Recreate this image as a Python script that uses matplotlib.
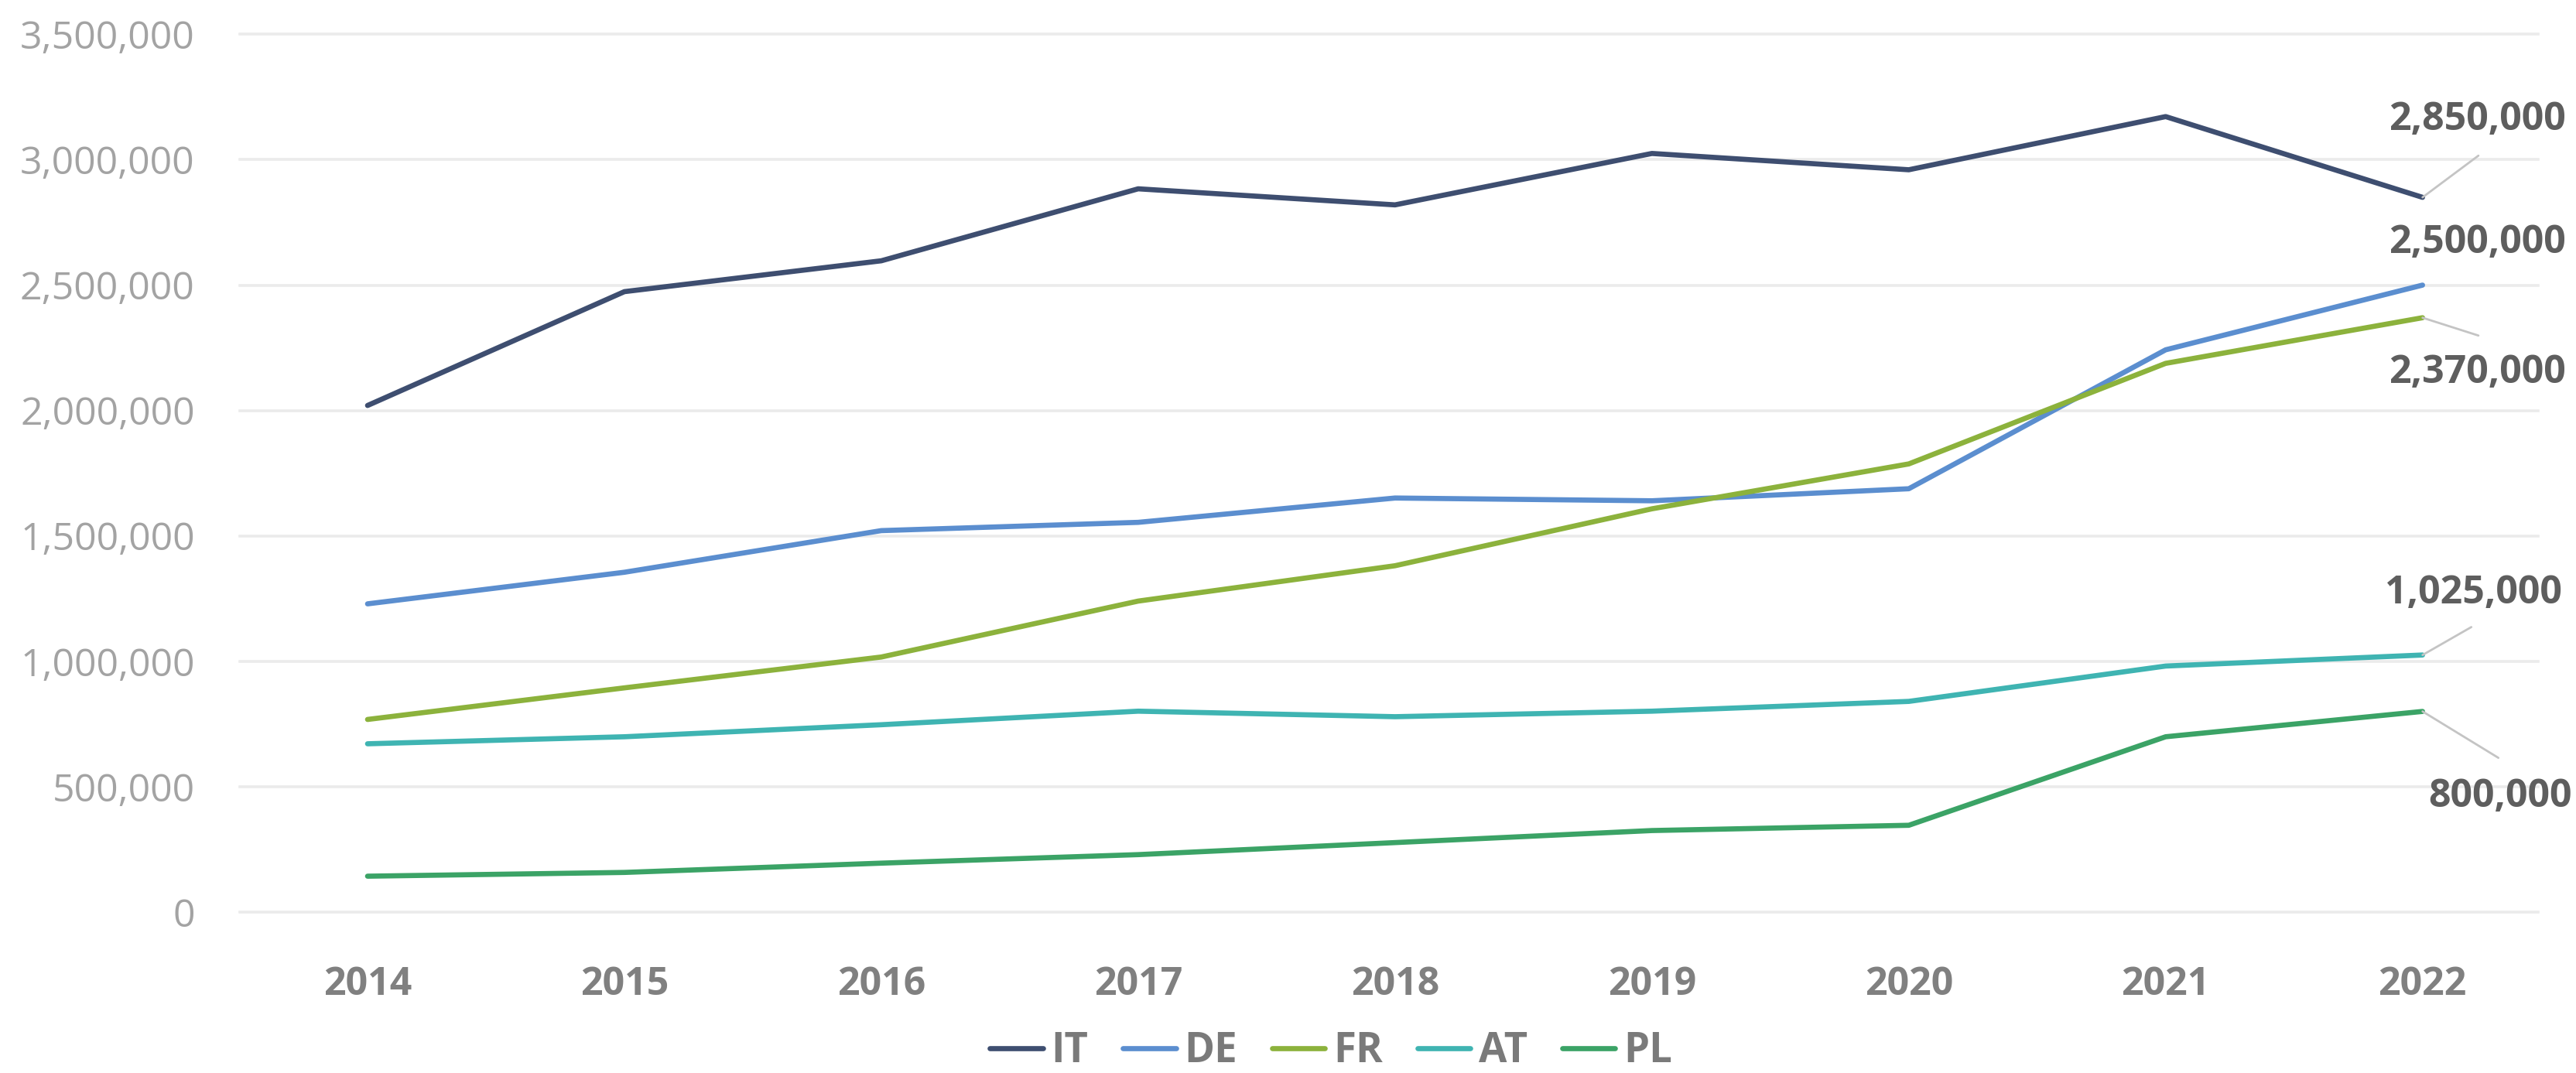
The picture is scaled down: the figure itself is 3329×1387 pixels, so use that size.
import matplotlib
matplotlib.use("Agg")
import matplotlib.pyplot as plt
from matplotlib.ticker import FuncFormatter

# data
years = [2014, 2015, 2016, 2017, 2018, 2019, 2020, 2021, 2022]
it_vals = [2020000, 2474000, 2597000, 2884000, 2820000, 3025000, 2960000, 3172000, 2850000]
de_vals = [1229000, 1355000, 1521000, 1554000, 1651000, 1640000, 1688000, 2242000, 2500000]
fr_vals = [768000, 894000, 1017000, 1240000, 1381000, 1608000, 1787000, 2188000, 2370000]
at_vals = [671000, 699000, 747000, 801000, 779000, 801000, 840000, 981000, 1025000]
pl_vals = [143000, 158000, 195000, 229000, 277000, 325000, 346000, 699000, 800000]

countries = ["IT", "DE", "FR", "AT", "PL"]
colors = ["#3e4e70", "#5b8ecf", "#8cb23c", "#3fb4b2", "#3ba366"]
yticks = [0, 500000, 1000000, 1500000, 2000000, 2500000, 3000000, 3500000]

series = [it_vals, de_vals, fr_vals, at_vals, pl_vals]

plt.rcParams['font.family'] = ['Open Sans', 'DejaVu Sans']

fig = plt.figure(figsize=(16.65, 6.935), dpi=200)
ax = fig.add_axes([0.0931, 0.15, 0.8919, 0.818])

for name, vals, c in zip(countries, series, colors):
    ax.plot(years, vals, color=c, lw=2.4, label=name, solid_capstyle='round', zorder=3)

ax.set_xlim(2013.503, 2022.45)
ax.set_ylim(0, 3500000)
ax.set_yticks(yticks)
ax.set_xticks(years)
ax.yaxis.set_major_formatter(FuncFormatter(lambda v, p: f"{int(v):,}"))
ax.grid(axis='y', color='#ebebeb', lw=1.3)
ax.set_axisbelow(True)
for gl in ax.get_ygridlines():
    gl.set_clip_on(False)
for s in ax.spines.values():
    s.set_visible(False)

ax.tick_params(axis='y', length=0, pad=21, labelsize=18, labelcolor='#a3a3a3')
ax.tick_params(axis='x', length=0, pad=25, labelsize=18, labelcolor='#808080')
for lbl in ax.get_xticklabels():
    lbl.set_fontweight('bold')

# end labels with leader lines (offsets in points)
last = years[-1]
end_labels = [
    (it_vals[-1], (26, 19.4), (25.6, 36)),
    (de_vals[-1], None, (25.6, 19.8)),
    (fr_vals[-1], (26, -8.3), (25.6, -25.6)),
    (at_vals[-1], (22.7, 13), (23.8, 28.8)),
    (pl_vals[-1], (35.3, -21.6), (36, -39.6)),
]
for v, lead, txt in end_labels:
    if lead is not None:
        ax.annotate('', xy=(last, v), xytext=lead, textcoords='offset points',
                    annotation_clip=False,
                    arrowprops=dict(arrowstyle='-', color='#c4c4c4', lw=1.0,
                                    shrinkA=0, shrinkB=0))
    ax.annotate(f"{v:,}", xy=(last, v), xytext=txt, textcoords='offset points',
                ha='center', va='center', fontsize=18, fontweight='bold',
                color='#5e5e5e', annotation_clip=False)

leg = fig.legend(loc='center', bbox_to_anchor=(0.5165, 0.02), ncol=5, frameon=False,
                 fontsize=19, handlelength=1.3, handletextpad=0.2, columnspacing=0.85)
for t in leg.get_texts():
    t.set_color('#7a7a7a')
    t.set_fontweight('bold')

fig.savefig("out.png", dpi=200)
